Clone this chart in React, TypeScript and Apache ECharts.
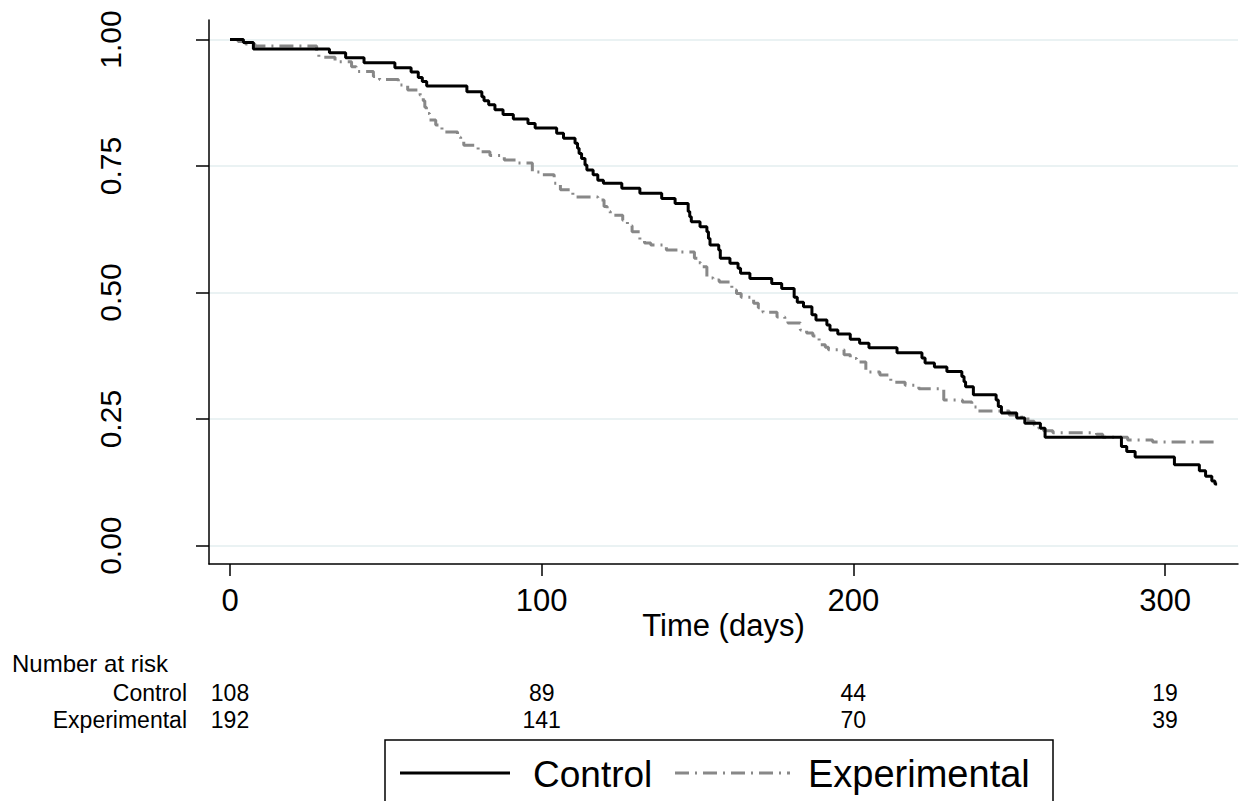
import { useEffect, useRef } from "react";
import * as echarts from "echarts";

// Kaplan-Meier steps: [time (days), survival after the step]
const controlSteps: [number, number][] = [
  [0, 1], [4.3, 0.994], [7.5, 0.981], [31.9, 0.974], [37.1, 0.964], [43, 0.954], [52.9, 0.944],
  [58.1, 0.936], [60.4, 0.925], [61.7, 0.917], [63.1, 0.908], [76, 0.897], [80.8, 0.887], [81.5, 0.879],
  [83, 0.871], [85, 0.861], [87.6, 0.852], [90.9, 0.843], [95.6, 0.834], [97.9, 0.825], [104.8, 0.815],
  [107, 0.805], [110.7, 0.795], [111.5, 0.785], [112, 0.775], [112.8, 0.765], [113.9, 0.752], [114.5, 0.742],
  [116.5, 0.733], [118, 0.722], [119.8, 0.716], [125.7, 0.706], [131.5, 0.696], [138.5, 0.686], [142.8, 0.676],
  [147, 0.66], [147.5, 0.65], [148, 0.64], [150.8, 0.63], [153, 0.62], [153.5, 0.607], [154, 0.594],
  [156.8, 0.584], [157.3, 0.568], [160.4, 0.558], [163, 0.548], [163.8, 0.538], [166.8, 0.528], [173.8, 0.518],
  [177, 0.508], [181, 0.491], [182, 0.481], [184, 0.472], [186.7, 0.456], [188, 0.446], [191.5, 0.436],
  [192.5, 0.426], [195, 0.418], [199, 0.408], [202, 0.4], [205, 0.391], [214, 0.381], [222, 0.371],
  [223, 0.361], [226, 0.353], [230, 0.344], [234.8, 0.334], [235.5, 0.324], [236, 0.314], [238.5, 0.298],
  [245.8, 0.288], [246.5, 0.275], [247.5, 0.262], [252.4, 0.252], [255, 0.242], [260, 0.232], [261.5, 0.214],
  [286, 0.196], [287.7, 0.186], [290.4, 0.175], [303, 0.16], [311, 0.148], [313, 0.137], [315, 0.128],
  [316, 0.122],
];

const experimentalSteps: [number, number][] = [
  [0, 1], [2.6, 0.996], [5, 0.991], [8, 0.987], [27.8, 0.975], [28.5, 0.965], [33.7, 0.956], [39, 0.946],
  [40.5, 0.937], [46, 0.927], [48, 0.921], [54, 0.91], [57, 0.9], [61, 0.89], [62, 0.879], [62.5, 0.866],
  [63, 0.854], [64, 0.841], [66, 0.831], [68, 0.822], [69, 0.817], [73, 0.807], [74, 0.799], [75, 0.791],
  [79.6, 0.778], [83.4, 0.771], [88, 0.762], [92, 0.756], [97, 0.738], [100, 0.733], [104, 0.716],
  [106, 0.703], [110, 0.689], [118, 0.683], [120, 0.67], [121, 0.66], [122, 0.653], [126, 0.643],
  [127.5, 0.632], [129, 0.62], [131.5, 0.604], [133, 0.598], [135, 0.594], [140, 0.584], [144, 0.58],
  [149, 0.568], [150, 0.559], [151, 0.551], [153, 0.529], [155, 0.525], [157, 0.521], [161, 0.505],
  [162.5, 0.498], [164, 0.491], [168, 0.479], [169.5, 0.47], [171, 0.461], [175.5, 0.452], [178, 0.445],
  [179, 0.44], [183, 0.426], [185, 0.42], [187, 0.414], [189, 0.397], [191, 0.392], [192, 0.387],
  [197, 0.377], [199, 0.37], [201, 0.363], [204, 0.343], [208.5, 0.337], [212, 0.323], [216.6, 0.317],
  [221, 0.31], [229, 0.288], [235, 0.284], [238, 0.274], [240, 0.266], [250, 0.258], [254, 0.254],
  [256, 0.246], [258, 0.238], [259.5, 0.232], [261, 0.227], [264, 0.223], [278, 0.22], [280, 0.214],
  [288, 0.209], [296, 0.205],
];

const followUpEnd = 316.7;

const xTicks = [0, 100, 200, 300];
const yTicks = [0, 0.25, 0.5, 0.75, 1];
const groups = ["Control", "Experimental"];
const riskTimes = [0, 100, 200, 300];
const controlAtRisk = [108, 89, 44, 19];
const experimentalAtRisk = [192, 141, 70, 39];

const FONT = "'Liberation Sans', Arial, Helvetica, sans-serif";
const X_MIN = -6.74;
const X_MAX = 323.4;

function withEnd(steps: [number, number][]): [number, number][] {
  return [...steps, [followUpEnd, steps[steps.length - 1][1]]];
}

export default function App() {
  const ref = useRef<HTMLDivElement>(null);

  useEffect(() => {
    document.body.style.margin = "0";
    const chart = echarts.init(ref.current!, null, { renderer: "svg" });

    const riskData: any[] = [];
    riskTimes.forEach((t, i) => {
      riskData.push([t, groups[0], controlAtRisk[i]]);
      riskData.push([t, groups[1], experimentalAtRisk[i]]);
    });

    const option: any = {
      animation: false,
      backgroundColor: "#ffffff",
      textStyle: { fontFamily: FONT },
      grid: [
        { left: 209, right: 8, top: 20, bottom: 237, containLabel: false },
        { left: 209, right: 8, top: 679, height: 54, containLabel: false },
      ],
      xAxis: [
        {
          type: "value",
          gridIndex: 0,
          min: X_MIN,
          max: X_MAX,
          name: "Time (days)",
          nameLocation: "middle",
          nameGap: 46,
          nameMoveOverlap: false,
          nameTextStyle: { fontSize: 31, color: "#000", fontFamily: FONT },
          axisLine: { show: true, onZero: false, lineStyle: { color: "#000", width: 1.5 } },
          axisTick: { show: true, length: 12, customValues: xTicks, lineStyle: { color: "#000", width: 1.5 } },
          axisLabel: { customValues: xTicks, fontSize: 31, color: "#000", margin: 21, fontFamily: FONT },
          splitLine: { show: false },
        },
        {
          type: "value",
          gridIndex: 1,
          min: X_MIN,
          max: X_MAX,
          show: false,
        },
      ],
      yAxis: [
        {
          type: "value",
          gridIndex: 0,
          min: -0.0362,
          max: 1.0385,
          axisLine: { show: true, onZero: false, lineStyle: { color: "#000", width: 1.5 } },
          axisTick: { show: true, length: 13, customValues: yTicks, lineStyle: { color: "#000", width: 1.5 } },
          axisLabel: {
            customValues: yTicks,
            rotate: 90,
            fontSize: 30,
            color: "#000",
            margin: 84,
            fontFamily: FONT,
            formatter: (v: number) => v.toFixed(2),
          },
          splitLine: { show: true, lineStyle: { color: "#eaf2f3", width: 2 } },
        },
        {
          type: "category",
          gridIndex: 1,
          data: groups,
          inverse: true,
          axisLine: { show: false },
          axisTick: { show: false },
          axisLabel: { interval: 0, fontSize: 23, color: "#000", margin: 22, fontFamily: FONT },
          splitLine: { show: false },
        },
      ],
      series: [
        {
          name: "Control",
          type: "line",
          xAxisIndex: 0,
          yAxisIndex: 0,
          step: "end",
          showSymbol: false,
          symbol: "none",
          data: withEnd(controlSteps),
          lineStyle: { color: "#000000", width: 3 },
          z: 3,
        },
        {
          name: "Experimental",
          type: "line",
          xAxisIndex: 0,
          yAxisIndex: 0,
          step: "end",
          showSymbol: false,
          symbol: "none",
          data: withEnd(experimentalSteps),
          lineStyle: { color: "#888888", width: 3, type: [14, 6, 2, 6] },
          z: 2,
        },
        {
          name: "Number at risk",
          type: "scatter",
          xAxisIndex: 1,
          yAxisIndex: 1,
          symbol: "circle",
          symbolSize: 0,
          itemStyle: { color: "#000000", opacity: 1 },
          data: riskData,
          label: {
            show: true,
            position: "inside",
            formatter: (p: any) => String(p.value[2]),
            fontSize: 23,
            color: "#000000",
            opacity: 1,
            textBorderWidth: 0,
            fontFamily: FONT,
          },
        },
      ],
      graphic: [
        {
          type: "text",
          left: 12,
          top: 651,
          style: { text: "Number at risk", fontSize: 24, fill: "#000", fontFamily: FONT },
        },
        {
          type: "rect",
          shape: { x: 385, y: 740, width: 668, height: 90 },
          style: { fill: "#fff", stroke: "#000", lineWidth: 1.5 },
        },
        {
          type: "line",
          shape: { x1: 400, y1: 773, x2: 510, y2: 773 },
          style: { stroke: "#000", lineWidth: 3 },
        },
        {
          type: "text",
          x: 533,
          y: 774,
          style: { text: "Control", fontSize: 37, fill: "#000", fontFamily: FONT, verticalAlign: "middle", align: "left" },
        },
        {
          type: "line",
          shape: { x1: 675, y1: 773, x2: 790, y2: 773 },
          style: { stroke: "#888888", lineWidth: 3, lineDash: [14, 6, 2, 6] },
        },
        {
          type: "text",
          x: 808,
          y: 774,
          style: { text: "Experimental", fontSize: 38, fill: "#000", fontFamily: FONT, verticalAlign: "middle", align: "left" },
        },
      ],
    };

    chart.setOption(option);
    return () => chart.dispose();
  }, []);

  return <div ref={ref} style={{ width: 1246, height: 801 }} />;
}
